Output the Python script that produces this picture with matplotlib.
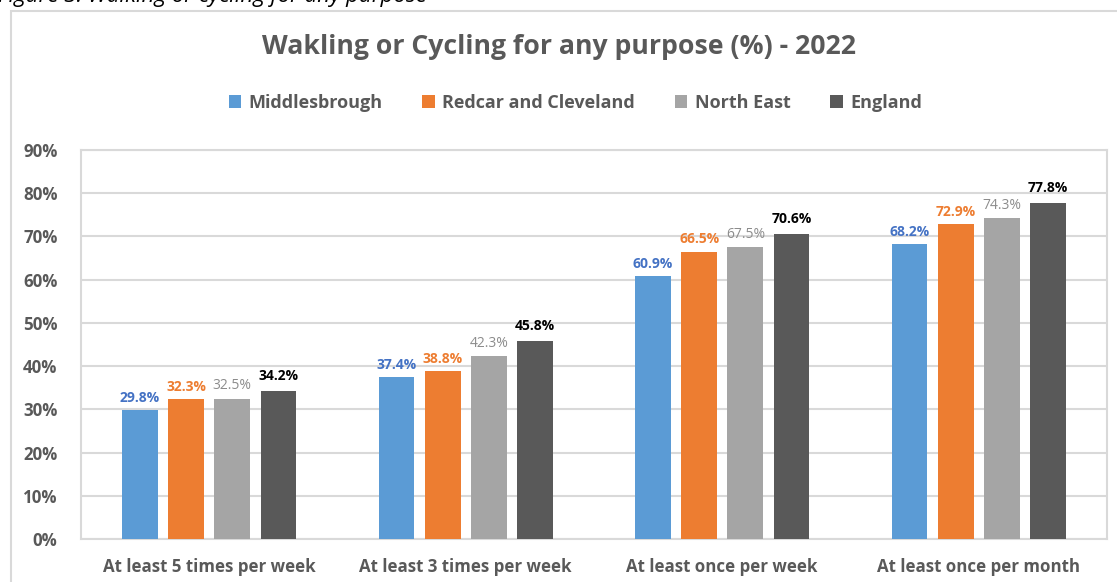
import matplotlib.pyplot as plt
import numpy as np
from matplotlib.patches import Rectangle

plt.rcParams['font.family'] = ['Open Sans', 'DejaVu Sans']

# Data
categories = ["At least 5 times per week", "At least 3 times per week",
              "At least once per week", "At least once per month"]
areas = ["Middlesbrough", "Redcar and Cleveland", "North East", "England"]
middlesbrough = [29.8, 37.4, 60.9, 68.2]
redcar = [32.3, 38.8, 66.5, 72.9]
north_east = [32.5, 42.3, 67.5, 74.3]
england = [34.2, 45.8, 70.6, 77.8]
series = [middlesbrough, redcar, north_east, england]

bar_colors = ["#5B9BD5", "#ED7D31", "#A5A5A5", "#595959"]
label_colors = ["#4472C4", "#ED7D31", "#8C8C8C", "#000000"]
label_weights = ["bold", "bold", "normal", "bold"]
text_grey = "#595959"

fig = plt.figure(figsize=(11.17, 5.82), dpi=100)
ax = fig.add_axes([81 / 1117, 1 - 539 / 582, (1107 - 81) / 1117, (539 - 150) / 582])

# outer chart border
fig.patches.append(Rectangle((11 / 1117, -0.05), 1.2, 1 - 11 / 582 + 0.05,
                             transform=fig.transFigure, fill=False,
                             edgecolor="#D9D9D9", linewidth=1.5))

x = np.arange(len(categories))
pitch = 0.18
width = 0.14
for i, vals in enumerate(series):
    pos = x + (i - 1.5) * pitch
    ax.bar(pos, vals, width=width, color=bar_colors[i], label=areas[i], zorder=3)
    for px, v in zip(pos, vals):
        ax.text(px, v + 1.2 + (0.6 if i == 3 else 0), f"{v:.1f}%", ha="center", va="bottom",
                fontsize=10, color=label_colors[i], fontweight=label_weights[i])

ax.set_xlim(-0.5, 3.5)
ax.set_ylim(0, 90)
ax.set_yticks(np.arange(0, 91, 10))
ax.set_yticklabels([f"{t}%" for t in range(0, 91, 10)])
ax.set_xticks(x)
ax.set_xticklabels(categories)
ax.tick_params(axis="both", length=0, colors=text_grey)
ax.tick_params(axis="x", pad=14, labelsize=12.2)
ax.tick_params(axis="y", pad=17, labelsize=12.2)
for lab in ax.get_xticklabels() + ax.get_yticklabels():
    lab.set_fontweight("bold")
ax.grid(axis="y", color="#D9D9D9", linewidth=1.5, zorder=0)
for s in ax.spines.values():
    s.set_color("#D9D9D9")
    s.set_linewidth(1.5)

fig.text(0.5, 1 - 47 / 582, "Wakling or Cycling for any purpose (%) - 2022", ha="center", va="center",
         fontsize=19.2, fontweight="bold", color=text_grey)
fig.text(-0.002, 1 - 2 / 582, "Figure 3: Walking or cycling for any purpose", ha="left", va="baseline",
         fontsize=16, style="italic", color="#000000")

leg = fig.legend(loc="center", bbox_to_anchor=(0.515, 1 - 103 / 582), ncol=4, frameon=False,
                 handlelength=0.7, handleheight=0.7, handletextpad=0.4, columnspacing=2.2,
                 prop={"size": 13, "weight": "bold"})
for t in leg.get_texts():
    t.set_color(text_grey)

fig.savefig("out.png", dpi=100)
